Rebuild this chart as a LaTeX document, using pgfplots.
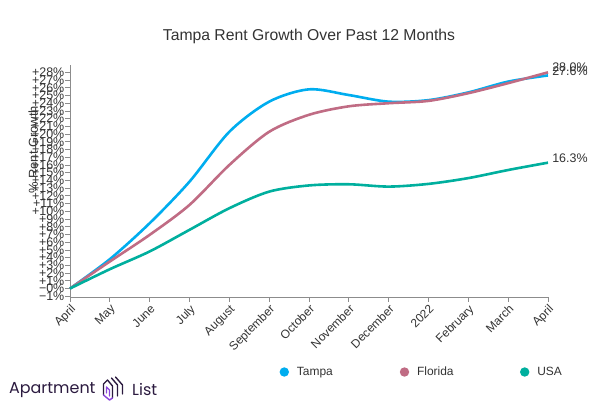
\documentclass[border=0pt]{standalone}
\usepackage{pgfplots}
\pgfplotsset{compat=1.18}
\usepackage{fontspec}
\setmainfont{Liberation Sans}
\newfontfamily\logofont{Poppins}

\definecolor{tampa}{RGB}{0,173,239}
\definecolor{florida}{RGB}{192,108,132}
\definecolor{usa}{RGB}{0,175,158}
\definecolor{txt}{RGB}{51,51,51}
\definecolor{axisgray}{RGB}{140,140,140}
\definecolor{logo}{RGB}{43,26,63}
\definecolor{logoviolet}{RGB}{140,70,220}

\begin{document}
\begin{tikzpicture}
\path[use as bounding box] (-70bp,-109bp) rectangle (533bp,297bp);
\begin{axis}[
    at={(0,0)}, anchor=south west,
    scale only axis, width=478bp, height=232bp,
    xmin=0, xmax=12, ymin=-1.1, ymax=28.95,
    axis x line*=bottom, axis y line*=left,
    axis line style={axisgray, line width=0.8bp},
    tick style={axisgray, line width=0.8bp},
    tick align=outside, major tick length=4.5bp,
    xtick={0,...,12},
    xticklabels={April,May,June,July,August,September,October,November,December,2022,February,March,April},
    xticklabel style={rotate=45, anchor=north east, font=\fontsize{12}{12}\selectfont, text=txt, inner sep=1.5bp},
    ytick={-1,0,...,28},
    yticklabels={−1\%,−0\%,+1\%,+2\%,+3\%,+4\%,+5\%,+6\%,+7\%,+8\%,+9\%,+10\%,+11\%,+12\%,+13\%,+14\%,+15\%,+16\%,+17\%,+18\%,+19\%,+20\%,+21\%,+22\%,+23\%,+24\%,+25\%,+26\%,+27\%,+28\%},
    yticklabel style={font=\fontsize{12.5}{12}\selectfont, text=txt, inner sep=1bp},
    ylabel={\% Rent Growth},
    ylabel style={at={(axis description cs:-0.077,0.634)}, anchor=center, font=\fontsize{13}{13}\selectfont, text=txt},
    title={Tampa Rent Growth Over Past 12 Months},
    title style={at={(axis description cs:0.5,1)}, anchor=center, yshift=23bp, font=\fontsize{15.8}{16}\selectfont, text=txt},
    legend columns=3,
    legend style={at={(axis description cs:0.4383,-0.3233)}, anchor=west, draw=none, fill=none,
        inner sep=0pt, font=\fontsize{12}{12}\selectfont, text=txt,
        nodes={inner sep=2bp},
        /tikz/every odd column/.append style={column sep=6bp},
        /tikz/every even column/.append style={column sep=56bp}},
    legend image code/.code={\fill[#1] (0bp,0bp) circle (3.3bp);},
    every axis plot/.append style={smooth, tension=0.5, line width=2.6bp, no markers},
    clip=false,
]
\addplot[tampa] coordinates {
(0,0) (1,3.8) (2,8.46) (3,13.84) (4,20.3) (5,24.2) (6,25.8)
(7,25.06) (8,24.2) (9,24.4) (10,25.4) (11,26.8) (12,27.6)}
node[pos=1, anchor=west, xshift=2bp, yshift=4bp, font=\fontsize{12.5}{12}\selectfont, text=txt, inner sep=1bp] {27.6\%};
\addlegendentry{\makebox[45bp][l]{Tampa}}
\addplot[florida] coordinates {
(0,0) (1,3.5) (2,6.95) (3,10.83) (4,16.0) (5,20.3) (6,22.5)
(7,23.6) (8,24.0) (9,24.3) (10,25.3) (11,26.6) (12,28.0)}
node[pos=1, anchor=west, xshift=2bp, yshift=5bp, font=\fontsize{12.5}{12}\selectfont, text=txt, inner sep=1bp] {28.0\%};
\addlegendentry{\makebox[45bp][l]{Florida}}
\addplot[usa] coordinates {
(0,0) (1,2.5) (2,4.8) (3,7.6) (4,10.4) (5,12.55) (6,13.35)
(7,13.5) (8,13.2) (9,13.55) (10,14.3) (11,15.35) (12,16.3)}
node[pos=1, anchor=west, xshift=2bp, yshift=4bp, font=\fontsize{12.5}{12}\selectfont, text=txt, inner sep=1bp] {16.3\%};
\addlegendentry{\makebox[45bp][l]{USA}}
\end{axis}
% logo
\node[anchor=west, inner sep=0pt, text=logo, font=\logofont\fontsize{16}{16}\selectfont] at (-61bp,-93bp) {Apartment};
\begin{scope}[xshift=1.5bp, line width=1.4bp, line cap=round, line join=round]
\draw[logo] (32bp,-98bp) -- (32bp,-87bp) -- (36bp,-83bp) -- (41bp,-89bp) -- (41bp,-101bp);
\draw[logoviolet] (32bp,-98bp) -- (38bp,-103bp) -- (41bp,-101bp);
\draw[logoviolet] (35bp,-96bp) -- (35bp,-90bp) -- (38bp,-93bp) -- (38bp,-99bp);
\draw[logo] (40bp,-81bp) -- (46bp,-88bp) -- (46bp,-99bp);
\draw[logo] (44bp,-80bp) -- (51bp,-88bp) -- (51bp,-97bp);
\end{scope}
\node[anchor=west, inner sep=0pt, text=logo, font=\logofont\fontsize{16}{16}\selectfont] at (62bp,-93bp) {List};
\end{tikzpicture}
\end{document}
